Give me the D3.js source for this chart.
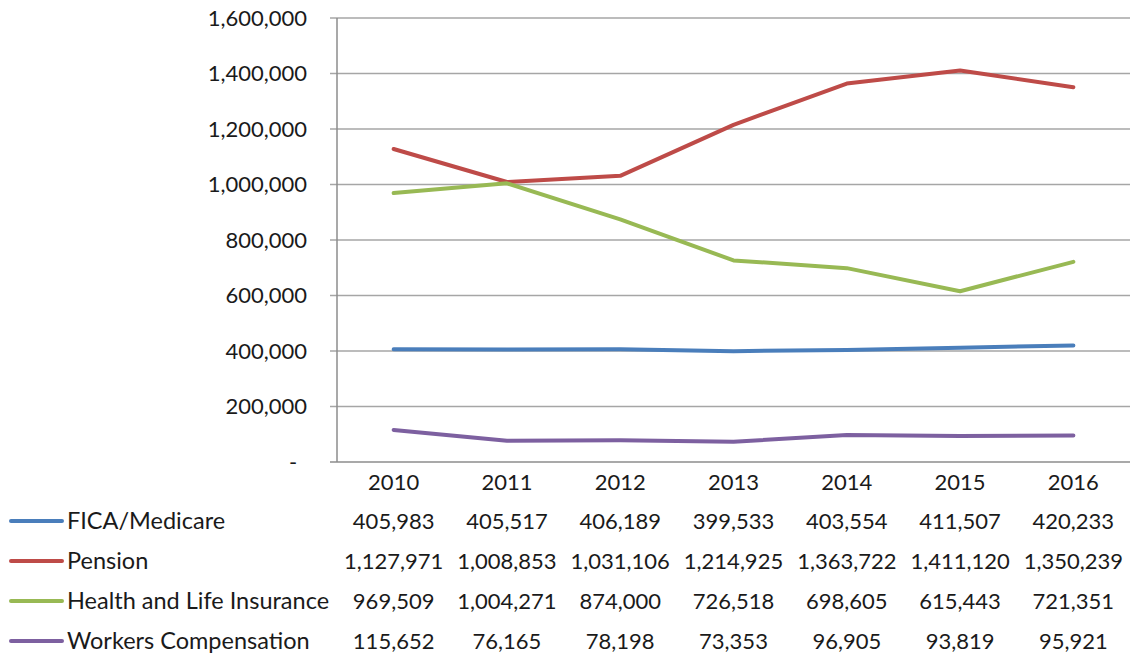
<!DOCTYPE html>
<html><head><meta charset="utf-8">
<script src="https://cdn.jsdelivr.net/npm/d3@7"></script>
<style>html,body{margin:0;padding:0;background:#fff;}svg{display:block;}</style>
</head><body>
<svg id="chart" width="1135" height="656"></svg>
<script>
const years = ["2010","2011","2012","2013","2014","2015","2016"];
const seriesNames = ["FICA/Medicare","Pension","Health and Life Insurance","Workers Compensation"];
const fica = [405983,405517,406189,399533,403554,411507,420233];
const pension = [1127971,1008853,1031106,1214925,1363722,1411120,1350239];
const health = [969509,1004271,874000,726518,698605,615443,721351];
const workers = [115652,76165,78198,73353,96905,93819,95921];
const yTicks = [0,200000,400000,600000,800000,1000000,1200000,1400000,1600000];
const colors = ["#4A7EBB","#BE4B48","#98B954","#7D60A0"];

const series = [fica, pension, health, workers];
const svg = d3.select("#chart");
const font = "Lato, 'Open Sans', sans-serif";
const plotLeft = 337, plotRight = 1130, plotTop = 18, plotBottom = 462;

const x = d3.scaleBand().domain(years).range([plotLeft, plotRight]);
const y = d3.scaleLinear().domain([0,1600000]).range([plotBottom, plotTop]);
const fmt = d3.format(",");

// gridlines
svg.append("g").selectAll("line").data(yTicks.filter(d=>d>0)).join("line")
  .attr("x1", plotLeft - 7).attr("x2", plotRight)
  .attr("y1", d=>y(d)).attr("y2", d=>y(d))
  .attr("stroke", "#a6a6a6").attr("stroke-width", 1.3);
// x axis line
svg.append("line").attr("x1", plotLeft-7).attr("x2", plotRight).attr("y1", y(0)).attr("y2", y(0))
  .attr("stroke", "#8c8c8c").attr("stroke-width", 1.5);
// y axis line
svg.append("line").attr("x1", plotLeft).attr("x2", plotLeft).attr("y1", plotTop).attr("y2", plotBottom)
  .attr("stroke", "#8c8c8c").attr("stroke-width", 1.5);

// y labels
svg.append("g").selectAll("text").data(yTicks).join("text")
  .attr("x", 307).attr("y", d=>y(d)).attr("dy", "0.35em")
  .attr("text-anchor", d=> d===0 ? "middle" : "end")
  .attr("dx", d=> d===0 ? "-14" : "0")
  .attr("font-family", font).attr("font-size", 22).attr("fill", "#1a1a1a")
  .text(d=> d===0 ? "-" : fmt(d));

// x labels
svg.append("g").selectAll("text").data(years).join("text")
  .attr("x", d=>x(d)+x.bandwidth()/2).attr("y", 482).attr("dy","0.35em")
  .attr("text-anchor","middle").attr("font-family", font).attr("font-size", 22).attr("fill","#1a1a1a")
  .text(d=>d);

// lines
const line = d3.line().x((d,i)=>x(years[i])+x.bandwidth()/2).y(d=>y(d));
svg.append("g").selectAll("path").data(series).join("path")
  .attr("d", d=>line(d)).attr("fill","none")
  .attr("stroke", (d,i)=>colors[i]).attr("stroke-width", 4)
  .attr("stroke-linejoin","round").attr("stroke-linecap","round");

// data table
const rowY = [521, 561, 601, 641];
const rows = svg.append("g").selectAll("g").data(series).join("g");
rows.append("line").attr("x1", 11).attr("x2", 62)
  .attr("y1", (d,i)=>rowY[i]).attr("y2", (d,i)=>rowY[i])
  .attr("stroke", (d,i)=>colors[i]).attr("stroke-width", 4).attr("stroke-linecap","round");
rows.append("text").attr("x", 67).attr("y", (d,i)=>rowY[i]).attr("dy","0.35em")
  .attr("font-family", font).attr("font-size", 23.5).attr("fill","#1a1a1a")
  .text((d,i)=>seriesNames[i]);
rows.each(function(vals, si){
  d3.select(this).selectAll("text.v").data(vals).join("text").attr("class","v")
    .attr("x", (d,i)=>x(years[i])+x.bandwidth()/2).attr("y", rowY[si]).attr("dy","0.35em")
    .attr("text-anchor","middle").attr("font-family", font).attr("font-size", 22).attr("fill","#1a1a1a")
    .text(d=>fmt(d));
});
</script>
</body></html>
